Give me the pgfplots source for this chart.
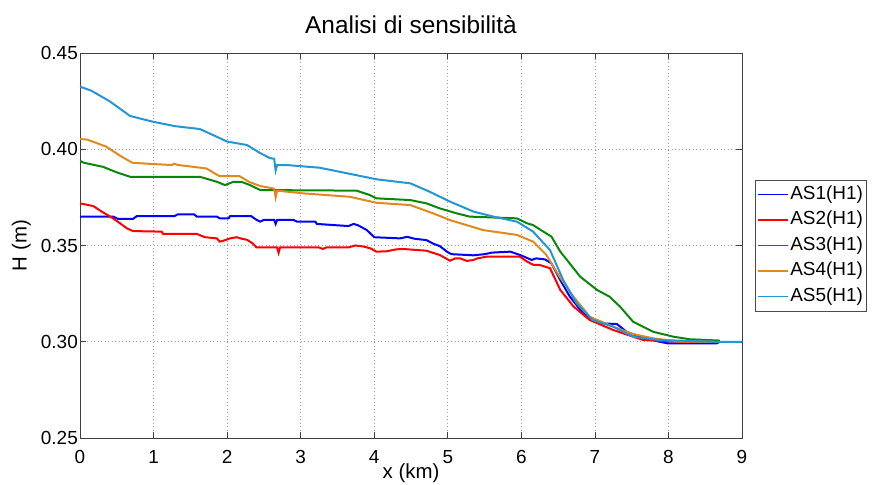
\documentclass[border=0pt]{standalone}
\usepackage{fontspec}
\setmainfont{Liberation Sans}
\usepackage{pgfplots}
\pgfplotsset{compat=1.18}
\definecolor{cAa}{RGB}{0,0,255}
\definecolor{cAb}{RGB}{255,0,0}
\definecolor{cAc}{RGB}{10,135,10}
\definecolor{cAd}{RGB}{224,138,30}
\definecolor{cAe}{RGB}{35,150,212}
\begin{document}
\begin{tikzpicture}
\path[use as bounding box] (0,0) rectangle (873bp,485bp);
\begin{axis}[
  at={(80bp,47bp)}, anchor=south west,
  scale only axis, width=662bp, height=385bp,
  xmin=0, xmax=9, ymin=0.25, ymax=0.45,
  xtick={0,1,2,3,4,5,6,7,8,9},
  ytick={0.25,0.3,0.35,0.4,0.45},
  yticklabel style={/pgf/number format/fixed, /pgf/number format/fixed zerofill, /pgf/number format/precision=2},
  /pgf/number format/assume math mode=true,
  tick label style={font=\fontsize{19}{19}\selectfont},
  xticklabel style={anchor=base, yshift=-26bp},
  yticklabel style={anchor=east, inner sep=0pt, xshift=-2bp},
  grid=major,
  major grid style={gray!75, dash pattern=on 1bp off 2.5bp, line width=0.6bp},
  tick align=inside, tick pos=both, major tick length=6bp,
  axis line style={black!75, line width=0.7bp},
  every tick/.style={black!75, line width=0.7bp},
  title={Analisi di sensibilità},
  title style={font=\fontsize{24.5}{28}\selectfont, at={(axis description cs:0.5,1.0364)}, anchor=base},
  xlabel={x (km)}, ylabel={H (m)},
  xlabel style={font=\fontsize{20.5}{24}\selectfont, at={(axis description cs:0.5,-0.105)}, anchor=base},
  ylabel style={font=\fontsize{20.5}{24}\selectfont, at={(axis description cs:-0.0805,0.5)}, anchor=base},
  legend style={at={(axis description cs:1.0196,0.5)}, anchor=west,
    font=\fontsize{19}{19}\selectfont, draw=black!70, fill=white,
    inner sep=2bp, row sep=0.5bp, column sep=0bp,
    nodes={inner xsep=1.5bp, inner ysep=3.5bp, text height=14bp, text depth=4bp}},
  legend cell align=left,
  legend image code/.code={\draw[#1] (0bp,0bp) -- (30bp,0bp);},
  legend image post style={line width=1.6bp},
  every axis plot/.append style={line width=2bp},
]
\addplot[cAa] coordinates {
(0,0.365) (0.45,0.365) (0.52,0.3638) (0.72,0.3638) (0.77,0.3652) (1.28,0.3652)
(1.33,0.3662) (1.55,0.3662) (1.59,0.365) (1.86,0.365) (1.9,0.3641) (2.02,0.3641)
(2.04,0.3652) (2.33,0.3652) (2.4,0.3633) (2.45,0.3624) (2.5,0.3633) (2.64,0.3633)
(2.66,0.3612) (2.68,0.3633) (2.9,0.3633) (2.95,0.3624) (3.2,0.3624) (3.22,0.3612)
(3.65,0.3601) (3.72,0.3612) (3.78,0.3605) (3.9,0.358) (4.0,0.3543) (4.35,0.3537)
(4.45,0.3545) (4.55,0.3535) (4.71,0.3528) (4.8,0.351) (4.89,0.3497) (5.0,0.3465)
(5.05,0.3455) (5.35,0.3449) (5.5,0.3455) (5.6,0.3463) (5.85,0.3468) (5.98,0.3451)
(6.08,0.3435) (6.14,0.3425) (6.2,0.3433) (6.32,0.3428) (6.41,0.3407) (6.53,0.332)
(6.66,0.3234) (6.84,0.3148) (7.0,0.3105) (7.07,0.3096) (7.3,0.3092) (7.43,0.3052)
(7.61,0.3026) (7.75,0.3012) (7.88,0.300) (8.0,0.2991) (8.65,0.2991) (8.7,0.300)
};
\addlegendentry{AS1(H1)}
\addplot[cAb] coordinates {
(0,0.3719) (0.18,0.3705) (0.3,0.3675) (0.45,0.3641) (0.64,0.3589) (0.72,0.3575)
(1.11,0.3572) (1.13,0.356) (1.59,0.356) (1.7,0.3543) (1.86,0.3537) (1.9,0.352)
(1.95,0.3525) (2.04,0.3537) (2.13,0.3543) (2.2,0.3535) (2.27,0.353) (2.35,0.351)
(2.4,0.349) (2.68,0.349) (2.7,0.3462) (2.72,0.349) (3.25,0.349) (3.3,0.3482)
(3.35,0.349) (3.65,0.349) (3.74,0.35) (3.85,0.3495) (3.95,0.3485) (4.03,0.3468)
(4.17,0.347) (4.3,0.348) (4.39,0.3482) (4.71,0.3473) (4.89,0.3451) (5.03,0.3421)
(5.1,0.3433) (5.17,0.3433) (5.26,0.342) (5.35,0.3425) (5.4,0.3433) (5.53,0.3442)
(5.98,0.3442) (6.08,0.3416) (6.16,0.340) (6.25,0.3399) (6.39,0.3382) (6.53,0.3269)
(6.71,0.3183) (6.93,0.3113) (7.25,0.3061) (7.52,0.3026) (7.66,0.3009) (7.98,0.3003)
(8.25,0.300) (8.4,0.300)
};
\addlegendentry{AS2(H1)}
\addplot[cAc] coordinates {
(0,0.394) (0.05,0.393) (0.31,0.3909) (0.5,0.388) (0.68,0.3857) (1.63,0.3857)
(1.86,0.3831) (1.97,0.3814) (2.08,0.383) (2.2,0.383) (2.31,0.3814) (2.45,0.3788)
(3.76,0.3785) (3.94,0.3762) (4.03,0.3745) (4.49,0.3736) (4.71,0.3719) (4.89,0.3693)
(5.12,0.3667) (5.3,0.365) (5.94,0.3641) (6.08,0.3615) (6.16,0.3606) (6.25,0.3584)
(6.41,0.3546) (6.53,0.3468) (6.62,0.3425) (6.8,0.3338) (7.03,0.3269) (7.2,0.3234)
(7.34,0.3183) (7.52,0.3104) (7.79,0.3052) (8.07,0.3026) (8.29,0.3013) (8.7,0.3006)
};
\addlegendentry{AS3(H1)}
\addplot[cAd] coordinates {
(0,0.4053) (0.1,0.405) (0.36,0.4013) (0.55,0.3965) (0.71,0.393) (1.0,0.3923)
(1.25,0.3918) (1.28,0.3925) (1.33,0.3918) (1.45,0.3913) (1.72,0.390) (1.85,0.387)
(1.9,0.386) (2.17,0.386) (2.3,0.383) (2.45,0.3809) (2.58,0.380) (2.64,0.3795)
(2.66,0.375) (2.68,0.3785) (3.03,0.3771) (3.67,0.3753) (4.03,0.3722) (4.49,0.371)
(4.8,0.3667) (5.03,0.3632) (5.48,0.358) (5.94,0.3555) (6.16,0.352) (6.34,0.3451)
(6.52,0.3338) (6.71,0.3234) (6.93,0.313) (7.25,0.3078) (7.52,0.304) (7.79,0.3018)
(8.16,0.300) (8.6,0.300)
};
\addlegendentry{AS4(H1)}
\addplot[cAe] coordinates {
(0,0.4325) (0.15,0.4305) (0.4,0.425) (0.68,0.4173) (0.99,0.4143) (1.29,0.412)
(1.63,0.4105) (2.0,0.404) (2.27,0.4022) (2.45,0.398) (2.58,0.3955) (2.64,0.395)
(2.66,0.389) (2.68,0.3918) (2.81,0.3918) (3.26,0.3904) (3.53,0.3883) (4.03,0.3844)
(4.49,0.3823) (4.75,0.378) (5.03,0.3728) (5.35,0.3676) (5.62,0.365) (5.94,0.3624)
(6.16,0.3572) (6.39,0.3476) (6.57,0.332) (6.75,0.320) (6.97,0.3113) (7.25,0.3078)
(7.52,0.3026) (7.88,0.3009) (8.7,0.2999) (9.0,0.300)
};
\addlegendentry{AS5(H1)}
\end{axis}
\end{tikzpicture}
\end{document}
